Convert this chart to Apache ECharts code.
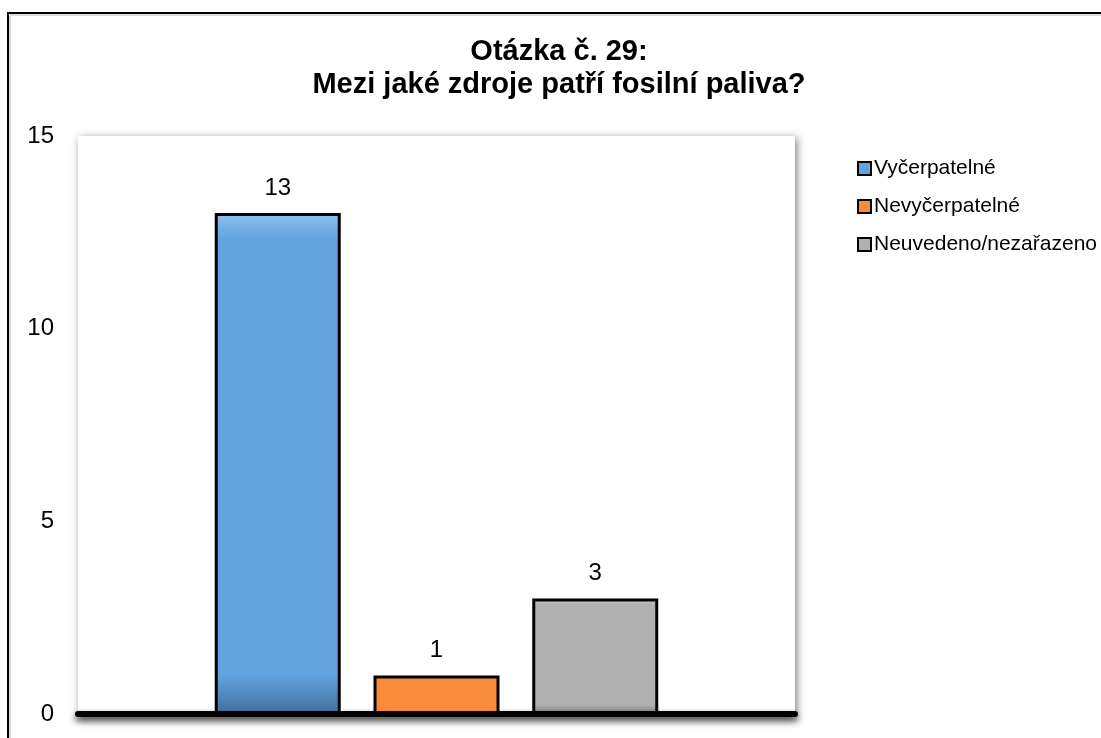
<!DOCTYPE html>
<html>
<head>
<meta charset="utf-8">
<title>Otázka č. 29</title>
<script src="https://cdn.jsdelivr.net/npm/echarts@6/dist/echarts.min.js"></script>
<style>
  html, body { margin: 0; padding: 0; background: #fff; }
  #chart { width: 1101px; height: 738px; }
</style>
</head>
<body>
<div id="chart"></div>
<script>
const titleLines = ['Otázka č. 29:', 'Mezi jaké zdroje patří fosilní paliva?'];
const seriesNames = ['Vyčerpatelné', 'Nevyčerpatelné', 'Neuvedeno/nezařazeno'];
const seriesValues = [13, 1, 3];
const seriesColors = ['#63a4e0', '#f98b3a', '#b0b0b0'];
const seriesDark = ['#3f6f9c', '#b5622a', '#767676'];
const seriesLight = ['#8fc2ef', '#fdb47c', '#d6d6d6'];
const categories = [''];

const chart = echarts.init(document.getElementById('chart'));
const font = 'Liberation Sans, Arial, sans-serif';

// fake bevel: light top rim, dark bottom rim
function barFill(i) {
  return new echarts.graphic.LinearGradient(0, 0, 0, 1, [
    { offset: 0, color: seriesLight[i] },
    { offset: 0.05, color: seriesColors[i] },
    { offset: 0.92, color: seriesColors[i] },
    { offset: 1, color: seriesDark[i] }
  ]);
}

const series = seriesNames.map(function (name, i) {
  return {
    name: name,
    type: 'bar',
    data: [seriesValues[i]],
    barWidth: 126,
    barGap: '26%',
    itemStyle: {
      color: barFill(i),
      borderColor: '#000',
      borderWidth: 3
    },
    label: {
      show: true,
      position: 'top',
      distance: 13,
      color: '#000',
      fontSize: 24,
      fontFamily: font
    }
  };
});

chart.setOption({
  animation: false,
  backgroundColor: '#fff',
  title: {
    text: titleLines.join('\n'),
    left: 554,
    textAlign: 'center',
    top: 30,
    textStyle: {
      fontSize: 29,
      fontWeight: 'bold',
      lineHeight: 33,
      color: '#000',
      fontFamily: font
    }
  },
  legend: {
    orient: 'vertical',
    left: 857,
    top: 158,
    padding: 0,
    itemWidth: 13,
    itemHeight: 13,
    itemGap: 17,
    icon: 'rect',
    textStyle: {
      fontSize: 21,
      lineHeight: 21,
      color: '#000',
      padding: [0, 0, 0, -2],
      fontFamily: font
    },
    data: seriesNames
  },
  graphic: [{
    type: 'rect',
    shape: { x: 8, y: 13, width: 1110, height: 740 },
    style: { fill: null, stroke: '#000', lineWidth: 2 },
    silent: true
  }, {
    type: 'rect',
    shape: { x: 10, y: 15, width: 1106, height: 736 },
    style: { fill: null, stroke: '#bbb', lineWidth: 1 },
    silent: true
  }],
  grid: {
    left: 78,
    right: 306,
    top: 136,
    bottom: 24,
    show: true,
    backgroundColor: '#fff',
    borderWidth: 0,
    shadowColor: 'rgba(0,0,0,0.5)',
    shadowBlur: 8,
    shadowOffsetX: 2,
    shadowOffsetY: 2
  },
  xAxis: {
    type: 'category',
    data: categories,
    axisLine: {
      lineStyle: {
        color: '#000',
        width: 6,
        shadowColor: 'rgba(0,0,0,0.8)',
        shadowBlur: 7,
        shadowOffsetY: 4
      }
    },
    axisTick: { show: false },
    axisLabel: { show: false }
  },
  yAxis: {
    type: 'value',
    min: 0,
    max: 15,
    interval: 5,
    splitLine: { show: false },
    axisLine: { show: false },
    axisTick: { show: false },
    axisLabel: {
      color: '#000',
      fontSize: 24,
      margin: 24,
      fontFamily: font
    }
  },
  series: series
});
</script>
</body>
</html>
